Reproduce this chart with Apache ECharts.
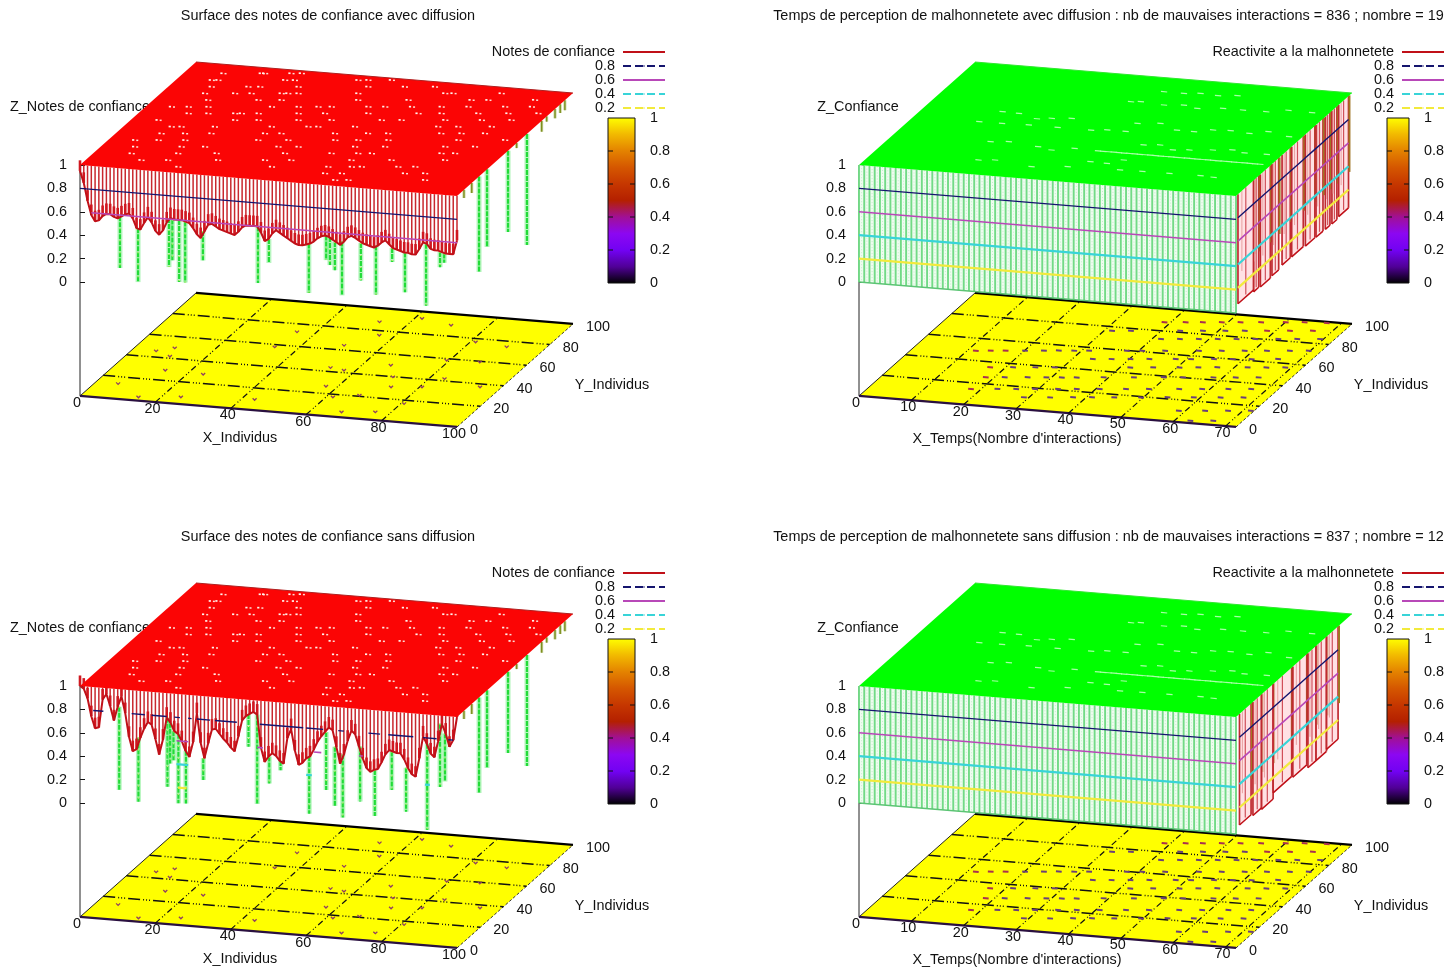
<!DOCTYPE html>
<html><head><meta charset="utf-8">
<style>html,body{margin:0;padding:0;background:#fff;overflow:hidden}#c{width:1447px;height:972px;filter:blur(0.45px)}</style>
<script src="https://cdn.jsdelivr.net/npm/echarts@6/dist/echarts.min.js"></script>
</head><body><div id="c"></div>
<script>
// ---------- values ----------
const titles = ["Surface des notes de confiance avec diffusion",
  "Temps de perception de malhonnetete avec diffusion : nb de mauvaises interactions = 836 ; nombre = 19",
  "Surface des notes de confiance sans diffusion",
  "Temps de perception de malhonnetete sans diffusion : nb de mauvaises interactions = 837 ; nombre = 12"];
const xTicksIndividus = [0,20,40,60,80,100];
const xTicksTemps = [0,10,20,30,40,50,60,70];
const yTicks = [0,20,40,60,80,100];
const zTicks = [0,0.2,0.4,0.6,0.8,1];
const colorTicks = [0,0.2,0.4,0.6,0.8,1];
const contourLevels = ['0.8','0.6','0.4','0.2'];
const zBase = -0.974;

// z of the surface along its front edge (y=0), one value per individual
const curtainAvec = [.95,.85,.7,.58,.53,.54,.58,.6,.6,.58,.57,.59,.61,.62,.58,.5,.49,.55,.6,.56,.49,.46,.5,.57,.61,.6,.6,.6,.59,.58,.54,.49,.46,.52,.58,.59,.57,.55,.54,.53,.52,.51,.54,.58,.6,.6,.6,.6,.55,.48,.5,.55,.58,.56,.54,.52,.5,.48,.47,.47,.48,.49,.51,.54,.56,.57,.56,.54,.52,.5,.53,.57,.585,.57,.55,.53,.52,.51,.5,.52,.55,.57,.54,.51,.5,.49,.48,.48,.47,.47,.52,.58,.57,.53,.52,.52,.51,.5,.5,.5,.62];
const curtainSans = [1,.98,.9,.75,.65,.66,.9,.95,.85,.73,.85,.94,.8,.6,.48,.5,.6,.68,.74,.72,.6,.47,.6,.79,.75,.68,.66,.6,.52,.47,.6,.85,.6,.47,.6,.72,.73,.69,.65,.62,.58,.55,.68,.82,.86,.88,.9,.88,.6,.48,.53,.56,.54,.5,.48,.7,.78,.6,.48,.5,.54,.56,.62,.69,.74,.78,.82,.8,.66,.52,.6,.72,.81,.78,.68,.58,.5,.47,.49,.5,.56,.63,.67,.66,.65,.65,.6,.53,.48,.46,.62,.81,.75,.67,.64,.78,.93,.85,.74,.8,1];

// deep dips seen below the front edge: [x, z]
const dipsAvec = [[10.6,.148],[15.4,.04],[23.6,.19],[24.5,.25],[26.3,.07],[27.9,.07],[32.6,.27],[47.2,.116],[50.1,.295],[60.7,.067],[65.3,.36],[66.3,.32],[67.6,.28],[69.5,.07],[74.5,.21],[78.5,.10],[82.8,.39],[86.2,.14],[91.8,.04],[95.5,.38],[96.6,.42]];
const dipsSans = [[10.4,.139],[15.5,.052],[23.2,.20],[23.9,.40],[24.8,.43],[26.1,.066],[28.1,.07],[32.7,.283],[44.7,.60],[47,.116],[50.2,.30],[53.2,.42],[60.8,.07],[65.3,.284],[67.6,.154],[69.7,.06],[74.3,.21],[78.2,.096],[82.7,.33],[86.5,.155],[92.1,.013],[95.5,.39],[96.8,.44]];
// dips seen below the right edge: [y, z]
const dipsRight = [[19,.183],[25.9,.336],[44,.305],[60.3,.05],[6,.93],[12.7,.914],[51.4,.957],[73,.907],[77.3,.955],[84.5,.92],[89,.926],[93,.915]];

// contour pieces on the front edge: [x0, x1]
const contourAvec = {'0.8':[[0,100]],'0.6':[[3,100]],'0.4':[],'0.2':[]};
const contourSans = {'0.8':[[3.5,6.2],[13.7,17.2],[19,23],[25,26.5],[28.7,29.6],[31,34.5],[35.8,41.6],[47.7,59.2],[60,64.5],[68.5,70],[76.5,79.6],[81.8,88.4],[91,94.6],[97.7,99]],
  '0.6':[[25.6,28.7],[47,48.5],[62,64],[74,75]],'0.4':[[25.6,28.7],[60,61.5],[91.5,92.8]],'0.2':[[26,28.3]]};
const contourTemps = {'0.8':[[0,72]],'0.6':[[0,72]],'0.4':[[0,72]],'0.2':[[0,72]]};

// columns along the right edge of the perception surfaces: [y0, y1, z]
const sideAvec = [[1.7,15.2,.064],[15.2,19.6,.047],[21,29.6,.037],[31,36.8,.045],[39.7,46.8,.06],[48,58,.057],[59.8,68,.045],[69,75,.04],[77,81,.037],[82.7,87,.033],[88.5,97,.045]];
const sideSans = [[3,13,.05],[14.6,22,.03],[22,32,.017],[32,48,.07],[49,61,.054],[62,69,.02],[69,78,.02],[78,88,.037]];

// small holes in the red surface: [x, y]
const holesNotes = [[9.3,91.8],[18.6,94.6],[19.4,94.9],[25.8,96.8],[28.3,97.6],[8.3,85],[9.9,85.5],[26.1,90.4],[28.5,91],[43.9,95.7],[46.3,96.5],[52,98.2],[10.1,79.1],[19,81.8],[21.9,82.6],[31.2,85.4],[48.1,90.6],[57,93.2],[64.3,95.4],[10.3,72.7],[17.6,74.9],[21.6,76.1],[28.9,78.3],[30.5,78.8],[33,79.5],[47.5,83.9],[68.6,90.3],[70.6,90.9],[82.3,94.4],[12.9,67],[25.1,70.7],[30.7,72.4],[49.3,78],[61.5,81.7],[76.8,86.3],[80.9,87.5],[92.2,91],[5.9,58.4],[10,59.6],[14.8,61],[30.2,65.7],[36.7,67.6],[41.5,69.1],[44.7,70.1],[53.6,72.8],[57.7,74],[64.2,75.9],[71.4,78.1],[77.9,80.1],[86.8,82.8],[93.3,84.7],[11.8,53.7],[16.6,55.1],[23.1,57.1],[24.7,57.6],[28.8,58.8],[38.5,61.7],[44.9,63.7],[55.4,66.9],[67.6,70.5],[73.2,72.2],[82.1,74.9],[89.4,77.1],[96.7,79.3],[6.3,45.6],[24.9,51.2],[30.6,52.9],[40.3,55.8],[48.3,58.3],[60.5,61.9],[65.3,63.4],[75.9,66.6],[84.8,69.2],[92,71.4],[11.3,40.7],[13.7,41.4],[21.8,43.8],[35.6,48],[44.5,50.7],[46.9,51.4],[55.8,54.1],[76,60.2],[80.9,61.6],[89,64.1],[10.7,33.9],[16.4,35.6],[22.8,37.6],[35.8,41.5],[39.8,42.7],[52.8,46.6],[60.8,49.1],[65.7,50.5],[78.6,54.4],[83.5,55.9],[89.2,57.6],[6.1,26.1],[11.8,27.8],[18.3,29.7],[36,35.1],[43.3,37.3],[54.7,40.7],[60.3,42.4],[67.6,44.6],[84.6,49.7],[95.9,53.2],[7.9,20.2],[19.2,23.6],[24.9,25.3],[42.7,30.7],[47.6,32.1],[61.3,36.3],[68.6,38.5],[83.2,42.9],[90.4,45.1],[8.9,14],[20.2,17.4],[29.5,20.3],[46.1,25.3],[57.4,28.7],[63.9,30.6],[67.2,31.6],[84.1,36.7],[87.4,37.7],[13.1,8.8],[19.6,10.7],[31.7,14.4],[43.1,17.8],[49.5,19.7],[64.1,24.1],[73.8,27.1],[86.8,31],[23.9,5.5],[46.6,12.4],[60.3,16.5],[66,18.2],[68.4,19],[77.3,21.6],[81.4,22.9],[61.3,10.4],[65.4,11.6],[80.7,16.2],[85.6,17.7],[65.6,5.2],[68.8,6.2],[87.4,11.8]];
// pale dashes in the green surface: [x, y]
const holesTemps = [[38.9,87.4],[42.7,87.4],[45.6,88.6],[49.1,87.9],[52.5,89.3],[35.1,76.1],[36.8,76.9],[41.5,75.6],[45,77],[48,75],[52.5,76.9],[56.3,76.9],[60.7,77.1],[64.3,80],[68.9,79.6],[14.6,57.9],[17.8,57.6],[22,54.1],[24.5,55.6],[28,57],[12.5,47.3],[16.8,47.5],[21.8,48],[27.3,48],[33.7,48],[36.5,49.3],[40,49.3],[40.5,57.3],[44.5,59],[48.7,54.3],[52,54.1],[55,57],[58.2,57.7],[62,56.7],[65,59.6],[69.6,56.6],[18.4,30.4],[21.6,31.7],[27.7,29.4],[30.7,27.4],[34.4,30.6],[45.8,38.6],[48.7,39.8],[51.9,36.3],[54.8,37.5],[58.9,39.2],[62.3,40.7],[65,39],[69.2,39.2],[19.9,13.2],[22.8,14.4],[39.8,19.9],[43,19.6],[45.3,23.8],[30.5,11.1],[36.8,13.8],[46.6,14.7],[50.8,15],[55.9,15.3],[61.8,15.5],[64.4,15],[39,30],[40,30],[41,30],[42,30],[43,30],[44,30],[45,30],[46,30],[47,30],[48,30],[49,30],[50,30],[51,30],[52,30],[53,30],[54,30],[55,30],[56,30],[57,30],[58,30],[59,30],[60,30],[61,30],[62,30],[63,30],[64,30],[65,30],[66,30],[67,30],[68,30],[69,30],[70,30]];

// specks on the yellow base: [x, y]
const specksNotes = [[5.8,14],[6.1,45.8],[9.8,49.8],[10.9,42.1],[13.6,29.3],[23.9,28.5],[24.7,6.7],[14.4,3.6],[43.3,9.8],[33.8,58],[35.1,73],[50.2,64.5],[53,43.7],[57,42.3],[57,26.8],[61.6,17.8],[67.6,21.2],[67.8,5.1],[76,7.6],[70.7,40],[73,30.9],[67,50.2],[80.5,33.2],[80.7,17.1],[83.7,42.2],[70.7,90.1],[52.4,87.9],[61.8,94],[56,76],[81.2,77.1],[94.6,37.4],[90.1,75],[79.2,58.7],[87.7,59.6]];
const specksTemps = [[38.9,87.8],[42.6,89.3],[45.6,90.6],[48.9,92],[52.2,93.3],[55.8,94.8],[60.1,96.6],[63.4,98],[67.4,99],[31.4,76.4],[34.7,77.8],[43.3,81.4],[47.3,83],[51.2,84.7],[54.6,86.1],[58.5,87.7],[62.5,89.4],[66.5,91.1],[41.6,72.6],[44.9,74],[48.2,75.4],[51.5,76.8],[54.8,78.1],[58.1,79.5],[62.1,81.2],[65.4,82.6],[69.4,84.2],[11.5,48.8],[14.1,49.9],[16.7,51],[20.1,52.4],[23.4,53.8],[26,54.9],[28.7,56],[31.3,57.1],[37.9,59.8],[40.6,60.9],[44.6,62.6],[50.5,65.1],[54.5,66.7],[58.5,68.4],[62.4,70],[66.4,71.7],[69.7,73.1],[33.6,49.9],[36.9,51.2],[40.2,52.6],[43.5,54],[48.1,55.9],[50.8,57],[54.8,58.7],[58.1,60],[61.4,61.4],[66,63.4],[17.3,35],[21.3,36.7],[25.2,38.3],[28.6,39.7],[41.8,45.2],[45.8,46.9],[50.4,48.8],[53.7,50.2],[57,51.6],[62.3,53.8],[65.6,55.1],[68.9,56.5],[18.5,25.8],[21.8,27.2],[25.8,28.9],[29.1,30.2],[31.8,31.3],[34.4,32.4],[39.1,34.4],[44.4,36.6],[49.6,38.8],[53,40.2],[58.3,42.4],[62.2,44],[66.2,45.7],[18.2,14.4],[22.8,16.4],[26.1,17.7],[29.4,19.1],[33.4,20.8],[36.7,22.1],[40.7,23.8],[45.3,25.7],[49.3,27.4],[54.6,29.6],[58.6,31.3],[63.2,33.2],[67.2,34.8],[29.1,10.8],[33.7,12.7],[37.7,14.4],[41,15.8],[44.9,17.4],[49.6,19.3],[54.2,21.3],[58.8,23.2],[63.5,25.1],[67.5,26.8],[58.8,10.3],[63.4,12.2],[67.4,13.9],[71.4,15.5],[62.8,2.2],[66.8,3.9]];

// colour scale of the bar (gnuplot default palette)
const paletteStops = [[0,'#000000'],[.1,'#500096'],[.2,'#7202f3'],[.3,'#8c07f2'],[.4,'#a11096'],[.5,'#b42000'],[.6,'#c63700'],[.7,'#d55700'],[.8,'#e48300'],[.9,'#f2ba00'],[1,'#ffff00']];

// ---------- layout and styles ----------
const FONT = '"Liberation Sans"';
const FS = 14.4;
const K_U = 116/377, K_VX = 31/117, K_VY = 103/117;
const DX = 779, DY = 521;
const contourStyle = {'0.8':['#15156e',1.4],'0.6':['#b848b8',1.6],'0.4':['#38d4d8',2.2],'0.2':['#f2ea3c',2.2]};
const legendIcon = {'0.8':'dashed','0.6':'solid','0.4':'dashed','0.2':'dashed'};
const HEAD_N = 'Notes de confiance', HEAD_T = 'Reactivite a la malhonnetete';

const panels = [
 {g:0,t:0,dx:0, dy:0, kind:'notes',xMax:100,xTicks:xTicksIndividus,curtain:curtainAvec,dips:dipsAvec,contour:contourAvec,head:HEAD_N,xName:'X_Individus',zName:'Z_Notes de confiance'},
 {g:2,t:1,dx:DX,dy:0, kind:'temps',xMax:72, xTicks:xTicksTemps,side:sideAvec,contour:contourTemps,head:HEAD_T,xName:"X_Temps(Nombre d'interactions)",zName:'Z_Confiance'},
 {g:4,t:2,dx:0, dy:DY,kind:'notes',xMax:100,xTicks:xTicksIndividus,curtain:curtainSans,dips:dipsSans,contour:contourSans,head:HEAD_N,xName:'X_Individus',zName:'Z_Notes de confiance'},
 {g:6,t:3,dx:DX,dy:DY,kind:'temps',xMax:72, xTicks:xTicksTemps,side:sideSans,contour:contourTemps,head:HEAD_T,xName:"X_Temps(Nombre d'interactions)",zName:'Z_Confiance'}
];

function proj(p,x,y,z){ return [x/p.xMax + y/100*K_U, z - x/p.xMax*K_VX + y/100*K_VY]; }
function layer(p,rows,draw){
  return {type:'custom',coordinateSystem:'cartesian2d',xAxisIndex:p.g,yAxisIndex:p.g,silent:true,clip:false,progressive:0,animation:false,
    data:rows.map((_,k)=>[k]),
    renderItem:(params,api)=>draw(rows[params.dataIndex],(x,y,z)=>api.coord(proj(p,x,y,z)))};
}
function seg(a,b,stroke,lineWidth,lineDash){
  return {type:'line',shape:{x1:a[0],y1:a[1],x2:b[0],y2:b[1]},style:{stroke,lineWidth,lineDash:lineDash||null}};
}
function poly(pts,fill){ return {type:'polygon',shape:{points:pts},style:{fill}}; }
function txt(s,x,y,align){ return {type:'text',x,y,style:{text:s,fill:'#111',font:FS+'px '+FONT,textAlign:align||'center',textVerticalAlign:'middle'}}; }

const grid=[],xAxis=[],yAxis=[],series=[],title=[],legend=[],graphicEls=[];

panels.forEach(p=>{
  grid.push({left:80+p.dx,top:48+p.dy,width:493,height:397.8});
  xAxis.push({type:'value',gridIndex:p.g,min:0,max:1+K_U,show:false});
  yAxis.push({type:'value',gridIndex:p.g,min:-1.4,max:2,position:'left',
    axisLine:{show:false},splitLine:{show:false},
    axisTick:{show:true,inside:true,length:5,customValues:zTicks,lineStyle:{color:'#111'}},
    axisLabel:{customValues:zTicks,margin:13,color:'#111',fontFamily:FONT,fontSize:FS}});
  const fm=p.xMax;
  // base plane
  series.push(layer(p,[0],(_,pt)=>({type:'group',children:[
    poly([pt(0,0,zBase),pt(fm,0,zBase),pt(fm,100,zBase),pt(0,100,zBase)],'#ffff00'),
    seg(pt(0,100,zBase),pt(fm,100,zBase),'#000',2.2),
    seg(pt(0,0,zBase),pt(0,100,zBase),'#222',1),
    seg(pt(fm,0,zBase),pt(fm,100,zBase),'#333',1,[3,2]),
    seg(pt(0,0,zBase),pt(fm,0,zBase),'#2a1040',2.2),
    seg(pt(0,0,zBase),pt(0,0,1),'#222',1)
  ]})));
  // base grid
  series.push(layer(p,p.xTicks.filter(v=>v>0&&v<fm),(v,pt)=>seg(pt(v,0,zBase),pt(v,100,zBase),'#111',1.2,[6,3,1,2,1,3])));
  series.push(layer(p,yTicks.filter(v=>v>0&&v<100),(v,pt)=>seg(pt(0,v,zBase),pt(fm,v,zBase),'#111',1.5,[12,3,1,2,1,2,1,3])));
  // base specks
  if(p.kind==='notes'){
    series.push(layer(p,specksNotes,(s,pt)=>{const a=pt(s[0],s[1],zBase);
      return {type:'polyline',shape:{points:[[a[0]-2,a[1]-1],[a[0],a[1]+1],[a[0]+2,a[1]-1]]},style:{stroke:'#904060',lineWidth:1.3,fill:null}};}));
  } else {
    series.push(layer(p,specksTemps,(s,pt)=>seg(pt(s[0]-.55,s[1],zBase),pt(s[0]+.55,s[1],zBase),(s[0]<20||s[1]>87)?'#a83050':'#6a3f7a',2)));
  }
  // tick labels on the base
  series.push(layer(p,p.xTicks,(v,pt)=>{const a=pt(v,0,zBase);return txt(String(v),a[0]-3,a[1]+7);}));
  series.push(layer(p,yTicks,(v,pt)=>{const a=pt(fm,v,zBase);return txt(String(v),a[0]+13,a[1]+3,'left');}));

  if(p.kind==='notes'){
    // deep dips, then the curtain along the front edge, then the top
    series.push(layer(p,p.dips,(d,pt)=>{const top=p.curtain[Math.round(d[0])];return {type:'group',children:[
      seg(pt(d[0],0,top),pt(d[0],0,d[1]),'rgba(110,235,125,.5)',5),
      seg(pt(d[0],0,top),pt(d[0],0,d[1]),'#22dc38',2.2,[5,1]),
      seg(pt(d[0],0,top),pt(d[0],0,d[1]),'#e6f27a',1.2,[1,11])
    ]};}));
    series.push(layer(p,dipsRight,(d,pt)=>{const deep=d[1]<.6;return {type:'group',children:[
      seg(pt(fm,d[0],1),pt(fm,d[0],d[1]),deep?'rgba(110,235,125,.5)':'rgba(150,170,60,.5)',deep?5:3),
      seg(pt(fm,d[0],1),pt(fm,d[0],d[1]),deep?'#22dc38':'#7d8f20',deep?2.2:1.4,deep?[5,1]:null)
    ]};}));
    series.push(layer(p,p.curtain.map((z,x)=>[x,z]),(c,pt)=>({type:'group',children:[
      seg(pt(c[0],0,1),pt(c[0],0,c[1]),'#c8282e',1.5),
      seg(pt(c[0],0,c[1]+.09),pt(c[0],0,c[1]),'#d01820',2.6)
    ]})));
    series.push({type:'line',name:p.head,xAxisIndex:p.g,yAxisIndex:p.g,symbol:'none',animation:false,silent:true,
      lineStyle:{color:'#c01018',width:2},itemStyle:{color:'#c01018'},
      data:p.curtain.map((z,x)=>proj(p,x,0,z))});
  } else {
    // pale wall along the front edge
    const steps=[];for(let x=0;x<=fm;x++)steps.push(x);
    series.push(layer(p,[0],(_,pt)=>poly([pt(0,0,1),pt(fm,0,1),pt(fm,0,0),pt(0,0,0)],'#effcf0')));
    series.push(layer(p,steps,(x,pt)=>({type:'group',children:[
      seg(pt(x,0,1),pt(x,0,0),'#72da86',1.9),
      x<fm?seg(pt(x+.5,0,1),pt(x+.5,0,0),'#c4f0cc',1,[1,2]):null
    ].filter(Boolean)})));
    series.push(layer(p,[0],(_,pt)=>seg(pt(0,0,0),pt(fm,0,0),'#5cc474',1.6)));
    // columns along the right edge
    series.push(layer(p,p.side,(b,pt)=>{const m=(b[0]+b[1])/2,q=(b[1]-b[0])/4;return {type:'group',children:[
      poly([pt(fm,b[0],1),pt(fm,b[1],1),pt(fm,b[1],b[2]),pt(fm,b[0],b[2])],'rgba(255,205,210,.6)'),
      seg(pt(fm,b[0],1),pt(fm,b[0],b[2]),'#c02a30',1.7),
      seg(pt(fm,b[1],1),pt(fm,b[1],b[2]),'#c02a30',1.7),
      seg(pt(fm,m,1),pt(fm,m,b[2]+.02),'#d0505a',1.2),
      seg(pt(fm,b[0]+q,1),pt(fm,b[0]+q,b[2]+.25),'#e8a0a0',1),
      seg(pt(fm,b[1]+.8,1),pt(fm,b[1]+.8,b[2]+.3),'#a07424',2)
    ]};}));
    const outline=[];p.side.forEach(b=>{outline.push(proj(p,fm,b[0],b[2]),proj(p,fm,b[1],b[2]),['-','-']);});
    series.push({type:'line',name:p.head,xAxisIndex:p.g,yAxisIndex:p.g,symbol:'none',animation:false,silent:true,
      lineStyle:{color:'#c01018',width:1.5},itemStyle:{color:'#c01018'},data:outline});
  }
  // contour lines
  contourLevels.forEach(name=>{
    const z=parseFloat(name),data=[];
    p.contour[name].forEach(s=>{data.push(proj(p,s[0],0,z),proj(p,s[1],0,z),['-','-']);});
    if(p.kind==='temps'){p.side.forEach(b=>{data.push(proj(p,fm,b[0],z),proj(p,fm,b[1],z));});}
    series.push({type:'line',name,xAxisIndex:p.g,yAxisIndex:p.g,symbol:'none',animation:false,silent:true,
      lineStyle:{color:contourStyle[name][0],width:contourStyle[name][1]},itemStyle:{color:contourStyle[name][0]},data});
  });
  // top of the surface
  const topFill=p.kind==='notes'?'#fb0505':'#00ff00';
  series.push(layer(p,[0],(_,pt)=>({type:'group',children:[
    poly([pt(0,0,1),pt(fm,0,1),pt(fm,100,1),pt(0,100,1)],topFill),
    seg(pt(0,100,1),pt(fm,100,1),p.kind==='notes'?'#b02020':'#30e830',1.2)
  ]})));
  if(p.kind==='notes'){
    series.push(layer(p,holesNotes,(h,pt)=>{const a=pt(h[0],h[1],1);
      return {type:'group',children:[
        {type:'rect',shape:{x:a[0]-1.2,y:a[1]-.9,width:2.2,height:1.7},style:{fill:'#fff4ee'}},
        {type:'rect',shape:{x:a[0]+3,y:a[1]-.4,width:2,height:1.5},style:{fill:'#ffdcd4'}}
      ]};}));
  } else {
    series.push(layer(p,holesTemps,(h,pt)=>seg(pt(h[0]-.6,h[1],1),pt(h[0]+.6,h[1],1),'#a8ffa8',1.2)));
  }

  // colour bar
  const g=p.g+1;
  grid.push({left:608+p.dx,top:118+p.dy,width:27,height:165});
  xAxis.push({type:'value',gridIndex:g,min:0,max:1,show:false});
  yAxis.push({type:'value',gridIndex:g,min:0,max:1,position:'right',
    axisLine:{show:false},splitLine:{show:false},axisTick:{show:false},
    axisLabel:{customValues:colorTicks,margin:15,color:'#111',fontFamily:FONT,fontSize:FS}});
  series.push({type:'custom',coordinateSystem:'cartesian2d',xAxisIndex:g,yAxisIndex:g,silent:true,animation:false,
    data:[[0]],renderItem:(params,api)=>{
      const a=api.coord([0,1]),b=api.coord([1,0]);
      const stops=paletteStops.map(s=>({offset:s[0],color:s[1]}));
      const kids=[{type:'rect',shape:{x:a[0],y:a[1],width:b[0]-a[0],height:b[1]-a[1]},
        style:{fill:new echarts.graphic.LinearGradient(0,1,0,0,stops),stroke:'#111',lineWidth:1}}];
      colorTicks.filter(v=>v>0&&v<1).forEach(v=>{const l=api.coord([0,v]),r=api.coord([1,v]);
        kids.push(seg(l,[l[0]+5,l[1]],'#111',1),seg([r[0]-5,r[1]],r,'#111',1));});
      return {type:'group',children:kids};
    }});

  // titles, legend and axis names
  title.push({text:titles[p.t],left:p.dx?1103.5:323,top:p.dy+4,textAlign:'center',
    textStyle:{fontFamily:FONT,fontSize:14.45,fontWeight:'normal',color:'#111'}});
  const legendData=[{name:p.head}].concat(contourLevels.map(n=>({name:n,lineStyle:{type:legendIcon[n]}})));
  legend.push({orient:'vertical',align:'right',right:1447-666-p.dx,top:45+p.dy,itemWidth:42,itemHeight:2,itemGap:0,selectedMode:false,
    padding:0,data:legendData,textStyle:{fontFamily:FONT,fontSize:FS,color:'#111',lineHeight:14,padding:[0,3,0,0]}});
  const nm=(s,x,y,a)=>graphicEls.push({type:'text',x,y:y+p.dy,silent:true,
    style:{text:s,font:FS+'px '+FONT,fill:'#111',textAlign:a||'center',textVerticalAlign:'middle'}});
  if(p.kind==='notes'){ nm(p.xName,240,438); nm('Y_Individus',612,385); nm(p.zName,10,107,'left'); }
  else { nm(p.xName,1017,439); nm('Y_Individus',1391,385); nm(p.zName,858,107); }
});

const chart=echarts.init(document.getElementById('c'),null,{renderer:'canvas',width:1447,height:972});
chart.setOption({backgroundColor:'#fff',animation:false,tooltip:{show:false},title,legend,grid,xAxis,yAxis,series,graphic:{elements:graphicEls}});
</script></body></html>
